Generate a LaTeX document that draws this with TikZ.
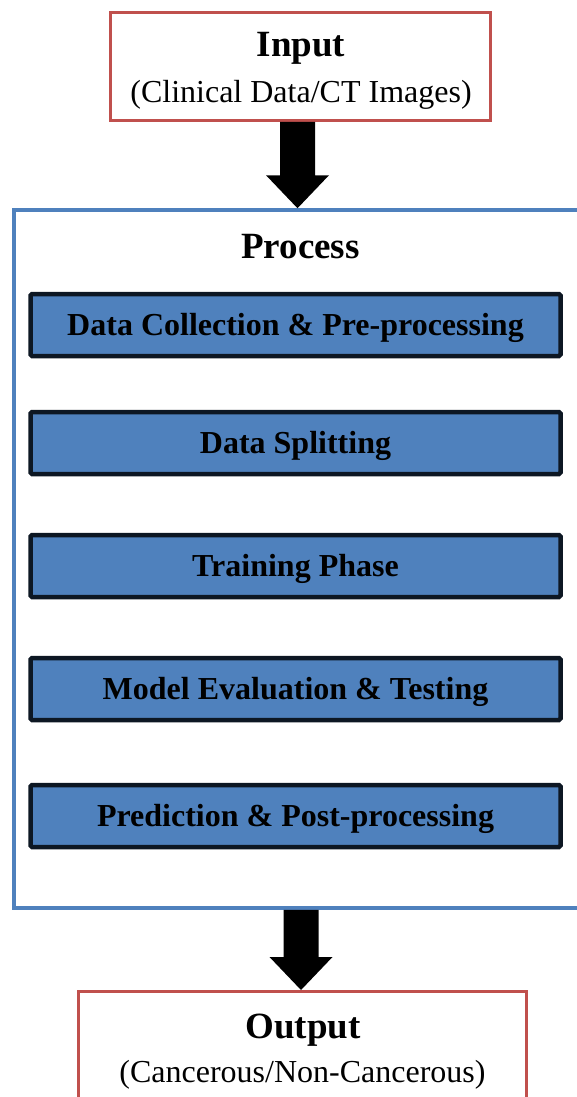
\documentclass[tikz,border=0pt]{standalone}
\usepackage{fontspec}
\setmainfont{Liberation Serif}
\usepackage{xcolor}
\usetikzlibrary{positioning, calc}
\definecolor{iored}{HTML}{C0504D}
\definecolor{procblue}{HTML}{4F81BD}
\definecolor{stepedge}{HTML}{0D1723}
\tikzstyle{iobox}=[rectangle, draw=iored, line width=3pt, fill=white]
\tikzstyle{procbox}=[rectangle, draw=procblue, line width=3.5pt]
\tikzstyle{stepbox}=[rectangle, draw=stepedge, fill=procblue, line width=4.5pt, rounded corners=1.5pt, minimum width=530pt, minimum height=62pt, text height=28pt, text depth=7pt, font=\fontsize{32}{38}\selectfont\bfseries]
\tikzstyle{headtext}=[inner sep=0, font=\fontsize{37}{44}\selectfont\bfseries]
\tikzstyle{subtext}=[inner sep=0, font=\fontsize{32}{38}\selectfont]
\tikzset{fatarrow/.style={fill=black, to path={let \p1=(\tikztostart), \p2=(\tikztotarget) in
  (\x1-17.5pt,\y1) -- (\x1+17.5pt,\y1) -- (\x1+17.5pt,\y2+33pt) -- (\x1+31.5pt,\y2+33pt)
  -- (\x1,\y2) -- (\x1-31.5pt,\y2+33pt) -- (\x1-17.5pt,\y2+33pt) -- cycle}}}

\begin{document}
\begin{tikzpicture}[x=1pt, y=1pt]
            \useasboundingbox (0,0) rectangle (577,-1097);

            % input
            \node[iobox, minimum width=380pt, minimum height=108pt] (inp) at (300.5,-66.5) {};
            \node[headtext, anchor=base] (inptitle) at ($(inp.north)+(0.5,-46)$) {Input};
            \node[subtext, anchor=base] (inpsub) at ($(inp.north)+(0.5,-92)$) {(Clinical Data/CT Images)};

            % process with its steps
            \node[procbox, minimum width=596pt, minimum height=698pt] (proc) at (312,-559) {};
            \node[headtext, anchor=base] (proctitle) at (300.5,-258) {Process};
            \node[stepbox] (collect) at (295.5,-325) {Data Collection \& Pre-processing};
            \node[stepbox, below=51.5pt of collect] (split) {Data Splitting};
            \node[stepbox, below=56.5pt of split] (train) {Training Phase};
            \node[stepbox, below=56.5pt of train] (evaluate) {Model Evaluation \& Testing};
            \node[stepbox, below=60.5pt of evaluate] (predict) {Prediction \& Post-processing};

            % output
            \node[iobox, minimum width=448pt, minimum height=121pt] (outp) at (302.5,-1052) {};
            \node[headtext, anchor=base] (outtitle) at ($(outp.north)+(0.5,-48)$) {Output};
            \node[subtext, anchor=base] (outsub) at ($(outp.north)+(0,-92)$) {(Cancerous/Non-Cancerous)};

            \fill[fatarrow] ([xshift=-3pt]inp.south) to (proc.north);
            \fill[fatarrow] ([xshift=-1.5pt]outp.north |- proc.south) to (outp.north);

        \end{tikzpicture}
\end{document}
